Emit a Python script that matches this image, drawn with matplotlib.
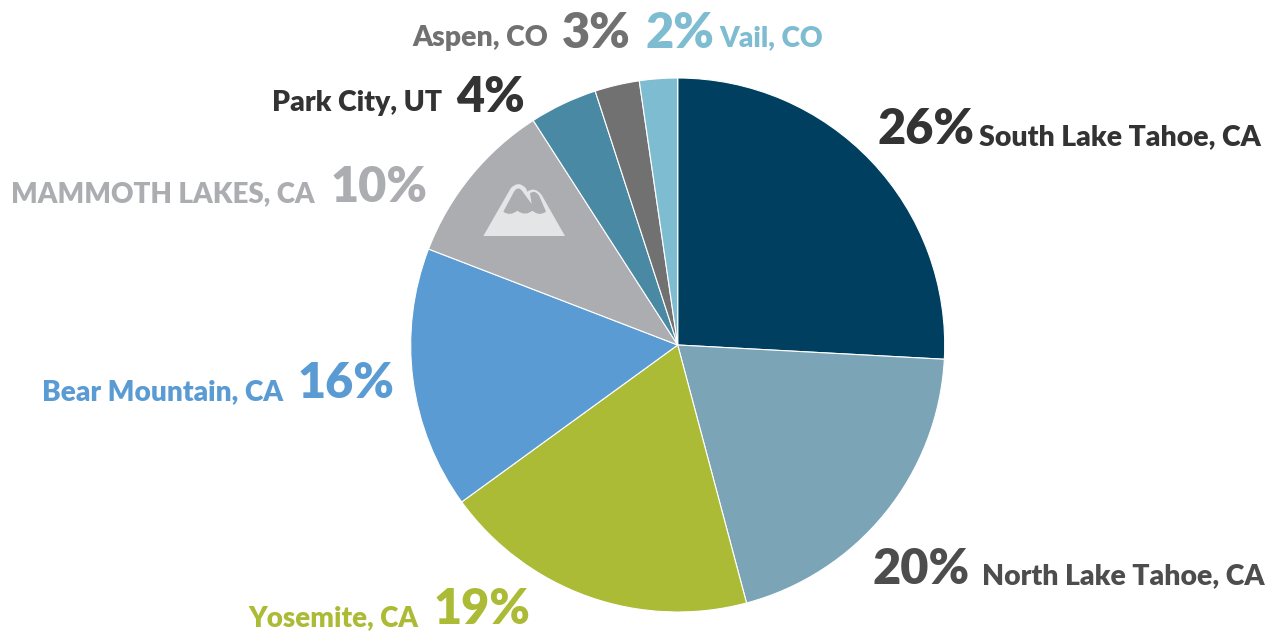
import matplotlib
matplotlib.use("Agg")
import matplotlib.pyplot as plt
from matplotlib.patches import PathPatch
from matplotlib.path import Path

W, H = 1276, 631
names = ["South Lake Tahoe, CA", "North Lake Tahoe, CA", "Yosemite, CA", "Bear Mountain, CA",
         "MAMMOTH LAKES, CA", "Park City, UT", "Aspen, CO", "Vail, CO"]
values = [25.85, 20.0, 19.15, 15.85, 10.05, 4.1, 2.7, 2.3]
percent_labels = ["26%", "20%", "19%", "16%", "10%", "4%", "3%", "2%"]
colors = ["#003F5F", "#7BA4B7", "#ABBB35", "#5B9BD3", "#ABADB1", "#4A89A4", "#717171", "#7EBCD1"]
text_colors = ["#333333", "#4D4D4D", "#ABBB35", "#5B9BD3", "#ABADB1", "#333333", "#717171", "#7EBCD1"]
plt.rcParams["font.family"] = ["Lato", "DejaVu Sans"]

fig = plt.figure(figsize=(W / 100, H / 100), dpi=100)
ax = fig.add_axes([0, 0, 1, 1])

cx, cy, r = 677.7, 345, 267
# y axis runs downward here, so counterclock=True reads clockwise on screen
ax.pie(values, colors=colors, startangle=-90, counterclock=True, center=(cx, cy), radius=r,
       wedgeprops=dict(edgecolor="white", linewidth=0.8), frame=True)
ax.set_xlim(0, W)
ax.set_ylim(H, 0)
ax.set_aspect("equal")
ax.axis("off")

pct_pos = [(926, 129), (921, 570), (482, 610), (346, 384), (379, 187), (491, 97), (596, 33), (680, 33)]
name_pos = [(1261, 137, "right"), (1264, 576, "right"), (418, 618, "right"), (283, 392, "right"),
            (315, 194, "right"), (442, 103, "right"), (548, 38, "right"), (719, 38, "left")]
name_sizes = [20.4, 20.4, 20.0, 20.2, 20.0, 20.4, 20.4, 20.2]
for i, nm in enumerate(names):
    ax.text(*pct_pos[i], percent_labels[i], color=text_colors[i], fontsize=35, fontweight=800,
            ha="center", va="center")
    ax.text(name_pos[i][0], name_pos[i][1], nm, color=text_colors[i], fontsize=name_sizes[i], fontweight=800,
            ha=name_pos[i][2], va="center")


def z(px, py):
    return (440 + px / 3, 150 + py / 3)


L, C, Q = Path.LINETO, Path.CURVE3, Path.MOVETO
outer = [(Q, (130, 258)), (L, (212, 115)), (C, (235, 90)), (C, (258, 115)), (L, (262, 125)),
         (C, (285, 108)), (C, (305, 135)), (L, (375, 258)), (L, (130, 258)), (Path.CLOSEPOLY, (130, 258))]
inner = [(Q, (190, 185)), (L, (222, 125)), (C, (235, 105)), (C, (248, 125)), (L, (275, 162)),
         (L, (270, 130)), (C, (285, 118)), (C, (298, 138)), (L, (318, 185)),
         (C, (298, 200)), (C, (277, 182)), (C, (255, 200)), (C, (232, 182)), (C, (210, 200)), (C, (190, 185)),
         (Path.CLOSEPOLY, (190, 185))]
for spec, fc, zo in [(outer, "#E4E5E7", 5), (inner, "#ABADB1", 6)]:
    path = Path([z(*p) for _, p in spec], [c for c, _ in spec])
    ax.add_patch(PathPatch(path, facecolor=fc, edgecolor="none", zorder=zo))
fig.savefig("out.png", dpi=100)
